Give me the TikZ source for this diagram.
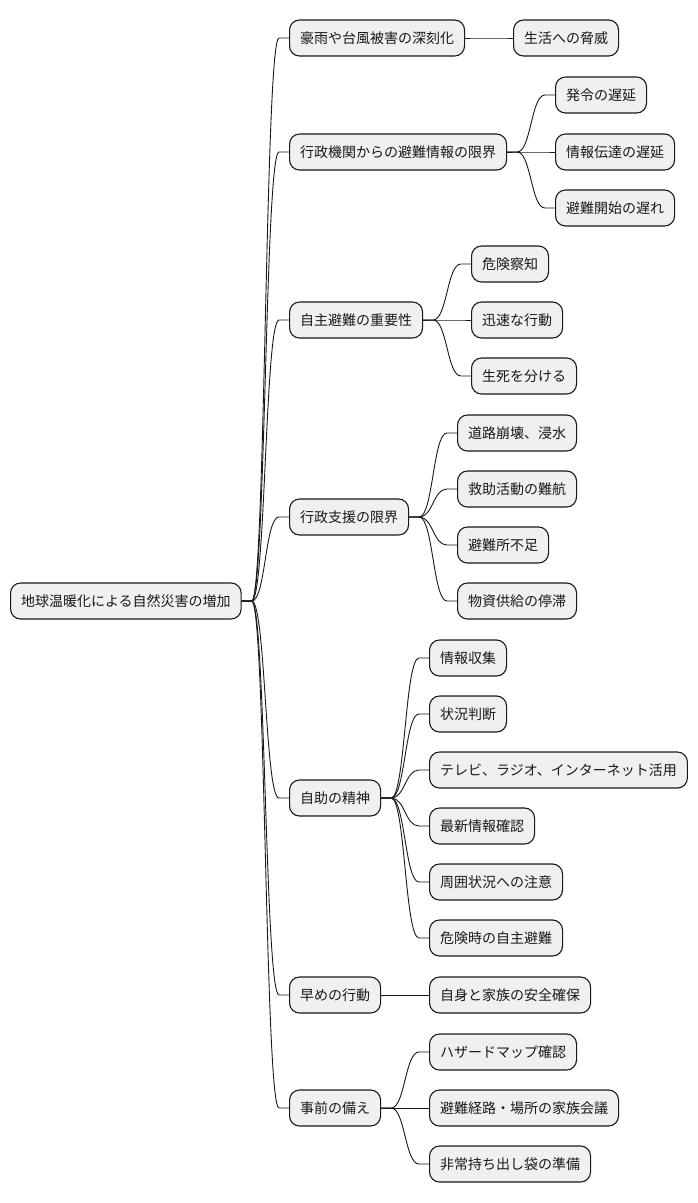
\documentclass[tikz,border=0pt]{standalone}
\usepackage{fontspec}
\setmainfont{Noto Sans CJK JP}
\tikzset{
  mm/.style={draw=black!90, fill=black!6, line width=1.1pt, rounded corners=10pt,
    anchor=west, minimum height=36pt, inner xsep=10.5pt, inner ysep=0pt,
    font=\fontsize{14pt}{16pt}\selectfont, text=black!90},
  conn/.style={draw=black!90, line width=0.9pt}
}
\newcommand\mmlink[2]{\draw[conn] (#1.east) -- ++(10,0) .. controls +(14,0) and +(-14,0) .. ([xshift=-10pt]#2.west) -- (#2.west);}
\begin{document}
\begin{tikzpicture}[x=1pt,y=-1pt]
\fill[white] (0,0) rectangle (698,1203);
\useasboundingbox (0,0) rectangle (698,1203);
\node[mm] (root) at (10,601) {地球温暖化による自然災害の増加};
% level 1
\node[mm] (a1) at (289,38) {豪雨や台風被害の深刻化};
\node[mm] (a2) at (289,152) {行政機関からの避難情報の限界};
\node[mm] (a3) at (289,320) {自主避難の重要性};
\node[mm] (a4) at (289,517) {行政支援の限界};
\node[mm] (a5) at (289,798) {自助の精神};
\node[mm] (a6) at (289,995) {早めの行動};
\node[mm] (a7) at (289,1108) {事前の備え};
% level 2
\node[mm] (b11) at (513,38) {生活への脅威};
\node[mm] (b21) at (555,95) {発令の遅延};
\node[mm] (b22) at (555,152) {情報伝達の遅延};
\node[mm] (b23) at (555,208) {避難開始の遅れ};
\node[mm] (b31) at (471,264) {危険察知};
\node[mm] (b32) at (471,320) {迅速な行動};
\node[mm] (b33) at (471,376) {生死を分ける};
\node[mm] (b41) at (457,433) {道路崩壊、浸水};
\node[mm] (b42) at (457,489) {救助活動の難航};
\node[mm] (b43) at (457,545) {避難所不足};
\node[mm] (b44) at (457,601) {物資供給の停滞};
\node[mm] (b51) at (429,658) {情報収集};
\node[mm] (b52) at (429,714) {状況判断};
\node[mm] (b53) at (429,770) {テレビ、ラジオ、インターネット活用};
\node[mm] (b54) at (429,826) {最新情報確認};
\node[mm] (b55) at (429,882) {周囲状況への注意};
\node[mm] (b56) at (429,938) {危険時の自主避難};
\node[mm] (b61) at (429,995) {自身と家族の安全確保};
\node[mm] (b71) at (429,1052) {ハザードマップ確認};
\node[mm] (b72) at (429,1108) {避難経路・場所の家族会議};
\node[mm] (b73) at (429,1164) {非常持ち出し袋の準備};
% connectors
\foreach \c in {a1,a2,a3,a4,a5,a6,a7} {\mmlink{root}{\c}}
\mmlink{a1}{b11}
\foreach \c in {b21,b22,b23} {\mmlink{a2}{\c}}
\foreach \c in {b31,b32,b33} {\mmlink{a3}{\c}}
\foreach \c in {b41,b42,b43,b44} {\mmlink{a4}{\c}}
\foreach \c in {b51,b52,b53,b54,b55,b56} {\mmlink{a5}{\c}}
\mmlink{a6}{b61}
\foreach \c in {b71,b72,b73} {\mmlink{a7}{\c}}
\end{tikzpicture}
\end{document}
